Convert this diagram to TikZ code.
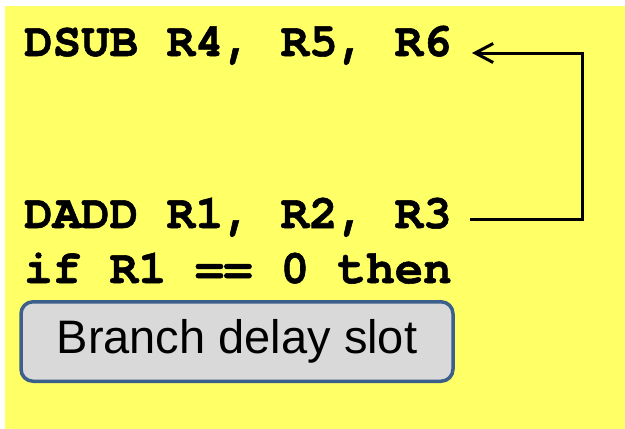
\documentclass[tikz,border=0pt]{standalone}
\usepackage{fontspec}
\setmainfont{Liberation Sans}
\newfontfamily\codefont[BoldFeatures={FakeBold=1.2}]{TeX Gyre Cursor}
\usetikzlibrary{arrows.meta}
\definecolor{bgyellow}{HTML}{FFFF66}
\definecolor{slotfill}{HTML}{D9D9D9}
\definecolor{slotdraw}{HTML}{3C5F8C}
\tikzset{
  code/.style={anchor=base west, inner sep=0pt, font=\codefont\bfseries\fontsize{47.5}{50}\selectfont},
  slotbox/.style={draw=slotdraw, fill=slotfill, line width=3.5pt, rounded corners=12pt,
    minimum width=432pt, minimum height=79.5pt, inner sep=0pt,
    font=\fontsize{47}{50}\selectfont},
  fbarrow/.style={draw=black, line width=3pt, -{Straight Barb[length=18pt,width=19pt]}}
}
\begin{document}
\begin{tikzpicture}[x=1pt,y=-1pt]
\useasboundingbox (0,0) rectangle (625,429);
\fill[bgyellow] (5,6) rectangle (625,429);
\node[code] (dsub) at (24,56) {DSUB R4, R5, R6};
\node[code] (dadd) at (24,228) {DADD R1, R2, R3};
\node[code] (ifline) at (24,283) {if R1 == 0 then};
\node[slotbox] (slot) at (237,341.5) {Branch delay slot};
\coordinate (start) at (470,219);
\coordinate (tip) at (472,53);
\draw[fbarrow] (start) -- (582,219) -- (582,53) -- (tip);
\end{tikzpicture}
\end{document}
